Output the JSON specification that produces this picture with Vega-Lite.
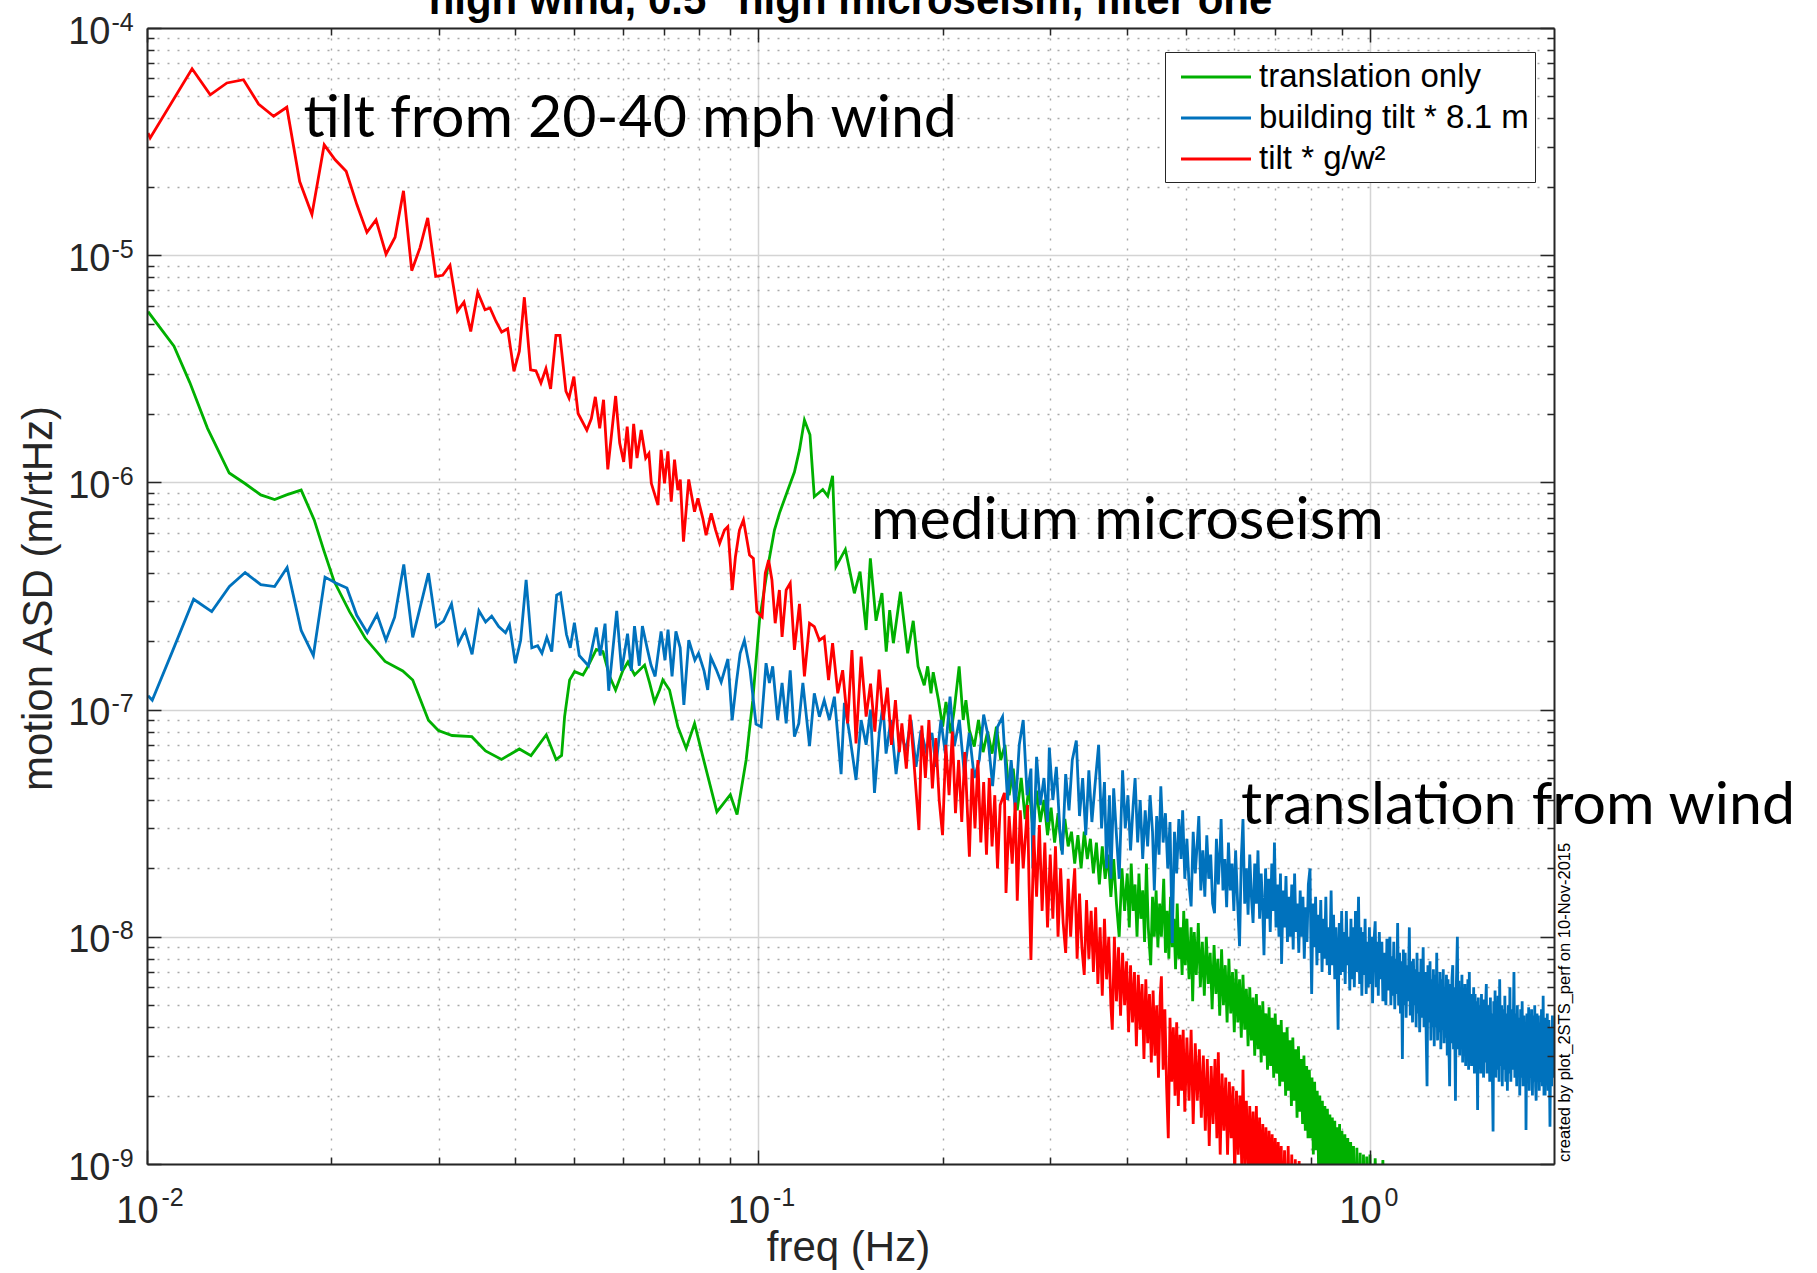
{
  "$schema": "https://vega.github.io/schema/vega-lite/v6.json",
  "width": 1407,
  "height": 1136,
  "padding": {"left": 147, "top": 28, "right": 263, "bottom": 109},
  "autosize": {"type": "none"},
  "background": "white",
  "config": {"view": {"stroke": null}, "font": "Liberation Sans"},
  "datasets": {
    "green": [
      {"freq":0.01004,"asd":5.64e-6},{"freq":0.01107,"asd":3.98e-6},{"freq":0.01175,"asd":2.75e-6},{"freq":0.01256,"asd":1.73e-6},{"freq":0.01363,"asd":1.10e-6},{"freq":0.01446,"asd":9.89e-7},{"freq":0.01535,"asd":8.81e-7},{"freq":0.01617,"asd":8.40e-7},{"freq":0.01691,"asd":8.81e-7},{"freq":0.01787,"asd":9.25e-7},{"freq":0.01877,"asd":6.84e-7},{"freq":0.01946,"asd":5.02e-7},{"freq":0.02022,"asd":3.68e-7},{"freq":0.02144,"asd":2.70e-7},{"freq":0.02275,"asd":2.06e-7},{"freq":0.02451,"asd":1.63e-7},{"freq":0.02620,"asd":1.48e-7},{"freq":0.02720,"asd":1.35e-7},{"freq":0.02886,"asd":8.97e-8},{"freq":0.02996,"asd":8.09e-8},{"freq":0.03155,"asd":7.69e-8},{"freq":0.03398,"asd":7.60e-8},{"freq":0.03578,"asd":6.58e-8},{"freq":0.03800,"asd":6.03e-8},{"freq":0.04064,"asd":6.71e-8},{"freq":0.04246,"asd":6.27e-8},{"freq":0.04498,"asd":7.75e-8},{"freq":0.04667,"asd":6.03e-8},{"freq":0.04765,"asd":6.28e-8},{"freq":0.04819,"asd":9.31e-8},{"freq":0.04911,"asd":1.35e-7},{"freq":0.05004,"asd":1.47e-7},{"freq":0.05164,"asd":1.42e-7},{"freq":0.05262,"asd":1.55e-7},{"freq":0.05430,"asd":1.84e-7},{"freq":0.05568,"asd":1.80e-7},{"freq":0.05709,"asd":1.40e-7},{"freq":0.05839,"asd":1.22e-7},{"freq":0.06003,"asd":1.49e-7},{"freq":0.06117,"asd":1.62e-7},{"freq":0.06272,"asd":1.42e-7},{"freq":0.06513,"asd":1.57e-7},{"freq":0.06637,"asd":1.31e-7},{"freq":0.06761,"asd":1.08e-7},{"freq":0.06890,"asd":1.22e-7},{"freq":0.06976,"asd":1.35e-7},{"freq":0.07154,"asd":1.22e-7},{"freq":0.07382,"asd":8.41e-8},{"freq":0.07617,"asd":6.75e-8},{"freq":0.07861,"asd":8.69e-8},{"freq":0.08110,"asd":6.21e-8},{"freq":0.08551,"asd":3.55e-8},{"freq":0.08995,"asd":4.22e-8},{"freq":0.09226,"asd":3.45e-8},{"freq":0.09546,"asd":6.00e-8},{"freq":0.09788,"asd":1.10e-7},{"freq":0.1004,"asd":2.48e-7},{"freq":0.1036,"asd":4.25e-7},{"freq":0.1062,"asd":6.17e-7},{"freq":0.1082,"asd":7.31e-7},{"freq":0.1117,"asd":9.26e-7},{"freq":0.1145,"asd":1.11e-6},{"freq":0.1167,"asd":1.39e-6},{"freq":0.1189,"asd":1.88e-6},{"freq":0.1214,"asd":1.62e-6},{"freq":0.1234,"asd":8.65e-7},{"freq":0.1274,"asd":9.31e-7},{"freq":0.1298,"asd":8.71e-7},{"freq":0.1322,"asd":1.07e-6},{"freq":0.1339,"asd":4.26e-7},{"freq":0.1387,"asd":5.07e-7},{"freq":0.1435,"asd":3.25e-7},{"freq":0.1466,"asd":4.05e-7},{"freq":0.1500,"asd":2.24e-7},{"freq":0.1524,"asd":4.63e-7},{"freq":0.1557,"asd":2.46e-7},{"freq":0.1592,"asd":3.26e-7},{"freq":0.1618,"asd":1.80e-7},{"freq":0.1639,"asd":2.74e-7},{"freq":0.1662,"asd":1.96e-7},{"freq":0.1707,"asd":3.30e-7},{"freq":0.1754,"asd":1.77e-7},{"freq":0.1791,"asd":2.46e-7},{"freq":0.1824,"asd":1.55e-7},{"freq":0.1867,"asd":1.28e-7},{"freq":0.1891,"asd":1.55e-7},{"freq":0.1915,"asd":1.18e-7},{"freq":0.1931,"asd":1.46e-7},{"freq":0.1970,"asd":1.10e-7},{"freq":0.2001,"asd":8.41e-8},{"freq":0.2026,"asd":1.08e-7},{"freq":0.2064,"asd":7.87e-8},{"freq":0.2090,"asd":9.96e-8},{"freq":0.2129,"asd":1.55e-7},{"freq":0.2162,"asd":9.00e-8},{"freq":0.2184,"asd":1.10e-7},{"freq":0.2212,"asd":8.13e-8},{"freq":0.2254,"asd":6.87e-8},
      {"freq":0.229,"asd":9.0e-8},{"freq":0.233,"asd":6.5e-8},{"freq":0.237,"asd":8.0e-8},{"freq":0.241,"asd":6.4e-8},{"freq":0.245,"asd":8.4e-8},{"freq":0.249,"asd":6.0e-8},{"freq":0.253,"asd":7.0e-8},{"freq":0.257,"asd":4.2e-8},{"freq":0.261,"asd":5.5e-8},{"freq":0.265,"asd":3.6e-8},{"freq":0.269,"asd":5.0e-8},{"freq":0.273,"asd":3.3e-8},{"freq":0.277,"asd":4.6e-8},{"freq":0.281,"asd":3.0e-8},{"freq":0.285,"asd":4.4e-8},{"freq":0.289,"asd":3.2e-8},{"freq":0.293,"asd":4.0e-8},{"freq":0.297,"asd":2.8e-8},{"freq":0.301,"asd":3.7e-8},{"freq":0.305,"asd":2.6e-8},{"freq":0.309,"asd":3.5e-8},{"freq":0.313,"asd":2.4e-8},{"freq":0.317,"asd":3.3e-8},{"freq":0.321,"asd":2.5e-8},{"freq":0.325,"asd":2.9e-8},{"freq":0.329,"asd":2.1e-8},{"freq":0.333,"asd":2.8e-8},{"freq":0.337,"asd":2.0e-8},{"freq":0.341,"asd":2.9e-8},{"freq":0.345,"asd":2.2e-8},{"freq":0.349,"asd":2.7e-8},{"freq":0.353,"asd":1.9e-8},{"freq":0.357,"asd":2.6e-8},{"freq":0.361,"asd":1.7e-8},{"freq":0.365,"asd":2.5e-8},{"freq":0.369,"asd":1.8e-8},{"freq":0.373,"asd":2.3e-8},{"freq":0.377,"asd":1.5e-8},{"freq":0.381,"asd":2.2e-8},{"freq":0.385,"asd":1.4e-8},{"freq":0.389,"asd":1.0e-8},{"freq":0.393,"asd":2.0e-8},{"freq":0.397,"asd":1.3e-8},
      {"freq":0.401,"asd":1.9e-8},{"freq":0.404,"asd":1.1e-8},{"freq":0.407,"asd":2.1e-8},{"freq":0.410,"asd":1.3e-8},{"freq":0.413,"asd":1.7e-8},{"freq":0.416,"asd":1.0e-8},{"freq":0.419,"asd":1.9e-8},{"freq":0.422,"asd":1.2e-8},{"freq":0.425,"asd":1.6e-8},{"freq":0.428,"asd":9.5e-9},{"freq":0.431,"asd":2.1e-8},{"freq":0.434,"asd":1.1e-8},{"freq":0.438,"asd":7.5e-9},{"freq":0.441,"asd":1.5e-8},{"freq":0.444,"asd":1.0e-8},{"freq":0.447,"asd":1.6e-8},{"freq":0.450,"asd":9.0e-9},{"freq":0.453,"asd":1.4e-8},{"freq":0.456,"asd":1.0e-8},{"freq":0.460,"asd":1.8e-8},{"freq":0.463,"asd":8.5e-9},{"freq":0.466,"asd":1.3e-8},{"freq":0.469,"asd":8.0e-9},{"freq":0.472,"asd":1.5e-8},{"freq":0.475,"asd":9.0e-9},{"freq":0.478,"asd":1.2e-8},{"freq":0.481,"asd":7.2e-9},{"freq":0.484,"asd":1.4e-8},{"freq":0.487,"asd":8.0e-9},{"freq":0.490,"asd":1.1e-8},{"freq":0.493,"asd":6.8e-9},{"freq":0.496,"asd":1.3e-8},{"freq":0.499,"asd":7.5e-9},{"freq":0.502,"asd":1.2e-8},{"freq":0.506,"asd":6.5e-9},{"freq":0.510,"asd":1.1e-8},{"freq":0.513,"asd":5.2e-9},{"freq":0.516,"asd":1.05e-8},{"freq":0.520,"asd":6.8e-9},{"freq":0.524,"asd":1.15e-8},{"freq":0.528,"asd":6.0e-9},{"freq":0.532,"asd":9.5e-9},{"freq":0.536,"asd":5.5e-9},{"freq":0.540,"asd":1.0e-8},{"freq":0.544,"asd":6.2e-9},{"freq":0.548,"asd":8.5e-9},{"freq":0.552,"asd":4.8e-9},{"freq":0.556,"asd":9.2e-9},{"freq":0.560,"asd":5.6e-9},{"freq":0.564,"asd":8.0e-9},{"freq":0.568,"asd":4.5e-9},{"freq":0.572,"asd":8.8e-9},{"freq":0.576,"asd":5.0e-9},{"freq":0.580,"asd":7.5e-9},{"freq":0.584,"asd":4.2e-9},{"freq":0.588,"asd":8.0e-9},{"freq":0.592,"asd":4.6e-9},{"freq":0.596,"asd":7.0e-9},{"freq":0.600,"asd":3.8e-9},{"freq":0.604,"asd":7.2e-9},{"freq":0.608,"asd":4.2e-9},{"freq":0.612,"asd":6.5e-9},{"freq":0.616,"asd":3.6e-9},{"freq":0.620,"asd":6.8e-9},{"freq":0.624,"asd":3.9e-9},{"freq":0.628,"asd":5.9e-9},{"freq":0.632,"asd":3.3e-9},{"freq":0.636,"asd":6.0e-9},{"freq":0.640,"asd":3.5e-9},{"freq":0.644,"asd":5.4e-9},{"freq":0.648,"asd":3.0e-9},{"freq":0.652,"asd":5.6e-9},{"freq":0.656,"asd":3.2e-9},{"freq":0.660,"asd":5.0e-9},{"freq":0.664,"asd":2.8e-9},{"freq":0.668,"asd":5.2e-9},{"freq":0.672,"asd":3.0e-9},{"freq":0.676,"asd":4.6e-9},{"freq":0.680,"asd":2.6e-9},{"freq":0.684,"asd":4.9e-9},{"freq":0.688,"asd":2.7e-9},{"freq":0.692,"asd":4.4e-9},{"freq":0.696,"asd":2.4e-9},{"freq":0.700,"asd":4.6e-9},{"freq":0.704,"asd":2.5e-9},{"freq":0.708,"asd":4.1e-9},{"freq":0.712,"asd":2.2e-9},{"freq":0.716,"asd":4.3e-9},{"freq":0.720,"asd":2.3e-9},{"freq":0.724,"asd":3.8e-9},{"freq":0.728,"asd":2.0e-9},{"freq":0.732,"asd":4.0e-9},{"freq":0.736,"asd":2.1e-9},{"freq":0.740,"asd":3.5e-9},{"freq":0.744,"asd":1.8e-9},{"freq":0.748,"asd":3.6e-9},{"freq":0.752,"asd":1.9e-9},{"freq":0.756,"asd":3.2e-9},{"freq":0.760,"asd":1.6e-9},{"freq":0.764,"asd":3.3e-9},{"freq":0.768,"asd":1.7e-9},{"freq":0.772,"asd":2.9e-9},{"freq":0.776,"asd":1.5e-9},{"freq":0.780,"asd":3.0e-9},{"freq":0.784,"asd":1.4e-9},{"freq":0.788,"asd":2.7e-9},{"freq":0.792,"asd":1.3e-9},{"freq":0.796,"asd":2.6e-9},{"freq":0.800,"asd":1.3e-9},{"freq":0.804,"asd":2.4e-9},{"freq":0.808,"asd":1.1e-9},{"freq":0.812,"asd":2.3e-9},{"freq":0.816,"asd":1.15e-9},{"freq":0.820,"asd":2.1e-9},{"freq":0.824,"asd":1.0e-9},{"freq":0.828,"asd":2.0e-9},{"freq":0.832,"asd":9.5e-10},{"freq":0.836,"asd":1.9e-9},{"freq":0.840,"asd":9.0e-10},{"freq":0.844,"asd":1.8e-9},{"freq":0.848,"asd":8.5e-10},{"freq":0.852,"asd":1.75e-9},{"freq":0.856,"asd":8.0e-10},{"freq":0.860,"asd":1.65e-9},{"freq":0.864,"asd":7.5e-10},{"freq":0.868,"asd":1.6e-9},{"freq":0.872,"asd":7.0e-10},{"freq":0.876,"asd":1.55e-9},{"freq":0.880,"asd":7.0e-10},{"freq":0.884,"asd":1.45e-9},{"freq":0.888,"asd":6.5e-10},{"freq":0.892,"asd":1.5e-9},{"freq":0.896,"asd":6.0e-10},{"freq":0.900,"asd":1.4e-9},{"freq":0.905,"asd":6.0e-10},{"freq":0.910,"asd":1.35e-9},{"freq":0.915,"asd":5.5e-10},{"freq":0.920,"asd":1.3e-9},{"freq":0.925,"asd":5.0e-10},{"freq":0.930,"asd":1.25e-9},{"freq":0.935,"asd":5.0e-10},{"freq":0.940,"asd":1.2e-9},{"freq":0.946,"asd":4.5e-10},{"freq":0.952,"asd":1.18e-9},{"freq":0.958,"asd":4.5e-10},{"freq":0.964,"asd":1.12e-9},{"freq":0.970,"asd":4.0e-10},{"freq":0.976,"asd":1.1e-9},{"freq":0.982,"asd":4.0e-10},{"freq":0.988,"asd":1.08e-9},{"freq":0.994,"asd":3.5e-10},{"freq":1.000,"asd":1.1e-9},{"freq":1.010,"asd":3.5e-10},{"freq":1.020,"asd":1.06e-9},{"freq":1.035,"asd":3.0e-10},{"freq":1.050,"asd":1.04e-9},{"freq":1.065,"asd":2.0e-10}
    ],
    "blue": [
      {"freq":0.01004,"asd":1.15e-7},{"freq":0.01020,"asd":1.10e-7},{"freq":0.01100,"asd":1.80e-7},{"freq":0.01192,"asd":3.06e-7},{"freq":0.01276,"asd":2.70e-7},{"freq":0.01364,"asd":3.48e-7},{"freq":0.01447,"asd":4.01e-7},{"freq":0.01535,"asd":3.55e-7},{"freq":0.01617,"asd":3.48e-7},{"freq":0.01695,"asd":4.22e-7},{"freq":0.01787,"asd":2.23e-7},{"freq":0.01871,"asd":1.73e-7},{"freq":0.01955,"asd":3.83e-7},{"freq":0.02036,"asd":3.61e-7},{"freq":0.02123,"asd":3.43e-7},{"freq":0.02203,"asd":2.60e-7},{"freq":0.02292,"asd":2.18e-7},{"freq":0.02378,"asd":2.62e-7},{"freq":0.02459,"asd":2.02e-7},{"freq":0.02541,"asd":2.55e-7},{"freq":0.02630,"asd":4.35e-7},{"freq":0.02720,"asd":2.08e-7},{"freq":0.02801,"asd":2.86e-7},{"freq":0.02886,"asd":3.98e-7},{"freq":0.02971,"asd":2.32e-7},{"freq":0.03055,"asd":2.45e-7},{"freq":0.03148,"asd":2.92e-7},{"freq":0.03229,"asd":1.95e-7},{"freq":0.03312,"asd":2.23e-7},{"freq":0.03401,"asd":1.75e-7},{"freq":0.03490,"asd":2.72e-7},{"freq":0.03579,"asd":2.43e-7},{"freq":0.03662,"asd":2.58e-7},{"freq":0.03760,"asd":2.32e-7},{"freq":0.03858,"asd":2.18e-7},{"freq":0.03916,"asd":2.36e-7},{"freq":0.04003,"asd":1.60e-7},{"freq":0.04084,"asd":2.02e-7},{"freq":0.04169,"asd":3.72e-7},{"freq":0.04259,"asd":1.87e-7},{"freq":0.04354,"asd":1.91e-7},{"freq":0.04425,"asd":1.77e-7},{"freq":0.04507,"asd":2.08e-7},{"freq":0.04591,"asd":1.80e-7},{"freq":0.04677,"asd":3.19e-7},{"freq":0.04746,"asd":3.26e-7},{"freq":0.04853,"asd":2.14e-7},{"freq":0.04923,"asd":1.87e-7},{"freq":0.05000,"asd":2.41e-7},{"freq":0.05092,"asd":1.73e-7},{"freq":0.05271,"asd":1.56e-7},{"freq":0.05430,"asd":2.30e-7},{"freq":0.05510,"asd":1.73e-7},{"freq":0.05612,"asd":2.39e-7},{"freq":0.05690,"asd":1.21e-7},{"freq":0.05864,"asd":2.72e-7},{"freq":0.05973,"asd":1.48e-7},{"freq":0.06108,"asd":2.16e-7},{"freq":0.06195,"asd":1.48e-7},{"freq":0.06270,"asd":2.33e-7},{"freq":0.06384,"asd":1.56e-7},{"freq":0.06459,"asd":2.33e-7},{"freq":0.06580,"asd":1.85e-7},{"freq":0.06672,"asd":1.57e-7},{"freq":0.06776,"asd":1.40e-7},{"freq":0.06930,"asd":2.21e-7},{"freq":0.07033,"asd":1.65e-7},{"freq":0.07114,"asd":2.25e-7},{"freq":0.07222,"asd":1.40e-7},{"freq":0.07328,"asd":2.21e-7},{"freq":0.07447,"asd":1.87e-7},{"freq":0.07551,"asd":1.05e-7},{"freq":0.07692,"asd":2.02e-7},{"freq":0.07870,"asd":1.65e-7},{"freq":0.07980,"asd":1.77e-7},{"freq":0.08147,"asd":1.48e-7},{"freq":0.08260,"asd":1.22e-7},{"freq":0.08356,"asd":1.70e-7},{"freq":0.08531,"asd":1.50e-7},{"freq":0.08690,"asd":1.32e-7},{"freq":0.08913,"asd":1.67e-7},{"freq":0.09057,"asd":8.97e-8},{"freq":0.09204,"asd":1.32e-7},{"freq":0.09333,"asd":1.77e-7},{"freq":0.09484,"asd":2.02e-7},{"freq":0.09683,"asd":1.51e-7},{"freq":0.09908,"asd":8.63e-8},
      {"freq":0.1010,"asd":8.4e-8},{"freq":0.1029,"asd":1.60e-7},{"freq":0.1042,"asd":1.31e-7},{"freq":0.1055,"asd":1.55e-7},{"freq":0.1075,"asd":9.0e-8},{"freq":0.1093,"asd":1.31e-7},{"freq":0.1110,"asd":8.7e-8},{"freq":0.1127,"asd":1.49e-7},{"freq":0.1145,"asd":7.6e-8},{"freq":0.1164,"asd":8.7e-8},{"freq":0.1182,"asd":1.31e-7},{"freq":0.1212,"asd":6.9e-8},{"freq":0.1234,"asd":1.18e-7},{"freq":0.1258,"asd":9.3e-8},{"freq":0.1281,"asd":1.10e-7},{"freq":0.1306,"asd":9.0e-8},{"freq":0.1331,"asd":1.14e-7},{"freq":0.1365,"asd":5.2e-8},{"freq":0.1382,"asd":1.07e-7},{"freq":0.1408,"asd":7.9e-8},{"freq":0.1444,"asd":4.9e-8},{"freq":0.1472,"asd":9.0e-8},{"freq":0.1500,"asd":7.0e-8},{"freq":0.1525,"asd":1.0e-7},{"freq":0.1548,"asd":4.3e-8},{"freq":0.1576,"asd":7.9e-8},{"freq":0.1598,"asd":1.05e-7},{"freq":0.1617,"asd":6.4e-8},{"freq":0.1647,"asd":9.0e-8},{"freq":0.1679,"asd":5.2e-8},{"freq":0.1710,"asd":7.9e-8},{"freq":0.1743,"asd":6.6e-8},{"freq":0.1776,"asd":9.0e-8},{"freq":0.1810,"asd":5.6e-8},{"freq":0.1844,"asd":8.1e-8},{"freq":0.1879,"asd":6.6e-8},{"freq":0.1922,"asd":7.9e-8},{"freq":0.1951,"asd":5.6e-8},{"freq":0.1988,"asd":9.0e-8},{"freq":0.2021,"asd":6.4e-8},{"freq":0.2057,"asd":1.14e-7},{"freq":0.2091,"asd":6.9e-8},{"freq":0.2131,"asd":9.0e-8},{"freq":0.2171,"asd":5.2e-8},{"freq":0.2212,"asd":7.9e-8},{"freq":0.2254,"asd":5.0e-8},{"freq":0.2297,"asd":6.0e-8},{"freq":0.2335,"asd":9.5e-8},{"freq":0.2369,"asd":7.9e-8},{"freq":0.2415,"asd":4.6e-8},{"freq":0.2460,"asd":8.4e-8},{"freq":0.2507,"asd":9.3e-8},{"freq":0.2555,"asd":4.0e-8},
      {"freq":0.259,"asd":6.0e-8},{"freq":0.263,"asd":3.6e-8},{"freq":0.267,"asd":7.0e-8},{"freq":0.271,"asd":9.0e-8},{"freq":0.275,"asd":4.2e-8},{"freq":0.279,"asd":5.5e-8},{"freq":0.281,"asd":2.0e-8},{"freq":0.285,"asd":6.2e-8},{"freq":0.289,"asd":3.8e-8},{"freq":0.293,"asd":5.0e-8},{"freq":0.297,"asd":3.2e-8},{"freq":0.299,"asd":6.8e-8},{"freq":0.303,"asd":4.0e-8},{"freq":0.307,"asd":5.6e-8},{"freq":0.311,"asd":3.0e-8},{"freq":0.314,"asd":2.3e-8},{"freq":0.318,"asd":5.2e-8},{"freq":0.322,"asd":3.6e-8},{"freq":0.326,"asd":6.0e-8},{"freq":0.331,"asd":7.3e-8},{"freq":0.335,"asd":3.4e-8},{"freq":0.339,"asd":5.0e-8},{"freq":0.343,"asd":2.8e-8},{"freq":0.347,"asd":5.4e-8},{"freq":0.351,"asd":3.2e-8},{"freq":0.355,"asd":4.6e-8},{"freq":0.360,"asd":7.0e-8},{"freq":0.364,"asd":3.0e-8},{"freq":0.368,"asd":4.8e-8},{"freq":0.371,"asd":2.0e-8},{"freq":0.375,"asd":4.2e-8},{"freq":0.377,"asd":1.8e-8},{"freq":0.381,"asd":4.5e-8},{"freq":0.385,"asd":2.8e-8},{"freq":0.389,"asd":1.8e-8},{"freq":0.394,"asd":5.4e-8},{"freq":0.398,"asd":3.0e-8},{"freq":0.402,"asd":4.2e-8},{"freq":0.406,"asd":2.4e-8},{"freq":0.410,"asd":3.8e-8},{"freq":0.413,"asd":5.0e-8},{"freq":0.417,"asd":2.6e-8},{"freq":0.421,"asd":4.0e-8},{"freq":0.425,"asd":2.2e-8},{"freq":0.429,"asd":3.6e-8},{"freq":0.433,"asd":2.5e-8},{"freq":0.437,"asd":4.2e-8},{"freq":0.441,"asd":2.9e-8},{"freq":0.444,"asd":1.6e-8},{"freq":0.448,"asd":3.4e-8},{"freq":0.452,"asd":2.3e-8},{"freq":0.455,"asd":4.6e-8},{"freq":0.459,"asd":2.6e-8},{"freq":0.463,"asd":3.5e-8},{"freq":0.467,"asd":2.0e-8},{"freq":0.471,"asd":3.2e-8},{"freq":0.475,"asd":9.4e-9},{"freq":0.479,"asd":2.9e-8},{"freq":0.483,"asd":1.9e-8},{"freq":0.487,"asd":3.3e-8},{"freq":0.491,"asd":2.2e-8},{"freq":0.494,"asd":3.6e-8},{"freq":0.498,"asd":1.8e-8},
      {"freq":0.502,"asd":2.7e-8},{"freq":0.506,"asd":1.7e-8},{"freq":0.510,"asd":1.36e-8},{"freq":0.514,"asd":2.9e-8},{"freq":0.518,"asd":1.9e-8},{"freq":0.522,"asd":2.6e-8},{"freq":0.525,"asd":3.4e-8},{"freq":0.529,"asd":1.6e-8},{"freq":0.533,"asd":2.4e-8},{"freq":0.537,"asd":1.5e-8},{"freq":0.541,"asd":2.8e-8},{"freq":0.545,"asd":1.8e-8},{"freq":0.549,"asd":2.3e-8},{"freq":0.553,"asd":1.4e-8},{"freq":0.557,"asd":1.27e-8},{"freq":0.561,"asd":2.7e-8},{"freq":0.565,"asd":1.7e-8},{"freq":0.569,"asd":2.5e-8},{"freq":0.571,"asd":3.3e-8},{"freq":0.575,"asd":1.6e-8},{"freq":0.579,"asd":2.2e-8},{"freq":0.583,"asd":1.35e-8},{"freq":0.587,"asd":2.6e-8},{"freq":0.591,"asd":1.6e-8},{"freq":0.595,"asd":2.1e-8},{"freq":0.599,"asd":1.3e-8},{"freq":0.603,"asd":2.4e-8},{"freq":0.607,"asd":1.5e-8},{"freq":0.612,"asd":9.1e-9},{"freq":0.616,"asd":2.2e-8},{"freq":0.620,"asd":3.3e-8},{"freq":0.624,"asd":1.4e-8},{"freq":0.628,"asd":2.0e-8},{"freq":0.632,"asd":1.25e-8},{"freq":0.636,"asd":2.3e-8},{"freq":0.640,"asd":1.5e-8},{"freq":0.644,"asd":1.15e-8},{"freq":0.648,"asd":2.1e-8},{"freq":0.652,"asd":1.4e-8},{"freq":0.656,"asd":2.4e-8},{"freq":0.660,"asd":1.2e-8},{"freq":0.664,"asd":1.9e-8},{"freq":0.668,"asd":1.3e-8},{"freq":0.671,"asd":8.3e-9},{"freq":0.675,"asd":2.0e-8},{"freq":0.679,"asd":1.2e-8},{"freq":0.683,"asd":1.8e-8},{"freq":0.687,"asd":1.05e-8},{"freq":0.691,"asd":2.1e-8},{"freq":0.695,"asd":1.3e-8},{"freq":0.698,"asd":2.6e-8},{"freq":0.702,"asd":1.1e-8},{"freq":0.706,"asd":1.7e-8},{"freq":0.710,"asd":1.0e-8},{"freq":0.714,"asd":1.9e-8},{"freq":0.717,"asd":7.6e-9},{"freq":0.721,"asd":1.6e-8},{"freq":0.725,"asd":1.1e-8},{"freq":0.729,"asd":1.85e-8},{"freq":0.733,"asd":9.5e-9},{"freq":0.737,"asd":1.5e-8},{"freq":0.741,"asd":1.0e-8},{"freq":0.745,"asd":1.7e-8},{"freq":0.749,"asd":8.8e-9},{"freq":0.753,"asd":1.9e-8},{"freq":0.757,"asd":1.05e-8},{"freq":0.761,"asd":1.4e-8},{"freq":0.765,"asd":8.5e-9},{"freq":0.769,"asd":1.6e-8},{"freq":0.773,"asd":1.0e-8},{"freq":0.777,"asd":1.5e-8},{"freq":0.781,"asd":8.0e-9},{"freq":0.785,"asd":1.35e-8},{"freq":0.789,"asd":9.5e-9},{"freq":0.793,"asd":1.7e-8},{"freq":0.798,"asd":2.0e-8},{"freq":0.801,"asd":8.5e-9},{"freq":0.803,"asd":5.6e-9},{"freq":0.807,"asd":1.4e-8},{"freq":0.811,"asd":9.0e-9},{"freq":0.815,"asd":1.5e-8},{"freq":0.819,"asd":7.5e-9},{"freq":0.823,"asd":1.25e-8},{"freq":0.827,"asd":8.5e-9},{"freq":0.831,"asd":1.45e-8},{"freq":0.835,"asd":7.0e-9},{"freq":0.839,"asd":1.2e-8},{"freq":0.843,"asd":8.0e-9},{"freq":0.847,"asd":1.5e-8},{"freq":0.851,"asd":7.5e-9},{"freq":0.855,"asd":1.1e-8},{"freq":0.859,"asd":6.8e-9},{"freq":0.864,"asd":1.6e-8},{"freq":0.868,"asd":7.5e-9},{"freq":0.872,"asd":1.25e-8},{"freq":0.876,"asd":6.5e-9},{"freq":0.880,"asd":1.1e-8},{"freq":0.884,"asd":7.2e-9},{"freq":0.887,"asd":3.9e-9},{"freq":0.891,"asd":1.15e-8},{"freq":0.895,"asd":6.8e-9},{"freq":0.899,"asd":1.3e-8},{"freq":0.903,"asd":7.0e-9},{"freq":0.907,"asd":1.05e-8},{"freq":0.911,"asd":6.2e-9},{"freq":0.915,"asd":1.3e-8},{"freq":0.919,"asd":7.5e-9},{"freq":0.923,"asd":1.0e-8},{"freq":0.927,"asd":5.8e-9},{"freq":0.931,"asd":1.2e-8},{"freq":0.935,"asd":6.5e-9},{"freq":0.939,"asd":1.1e-8},{"freq":0.943,"asd":6.0e-9},{"freq":0.947,"asd":1.3e-8},{"freq":0.951,"asd":7.0e-9},{"freq":0.955,"asd":1.0e-8},{"freq":0.958,"asd":1.5e-8},{"freq":0.962,"asd":6.2e-9},{"freq":0.966,"asd":1.1e-8},{"freq":0.970,"asd":5.5e-9},{"freq":0.974,"asd":1.05e-8},{"freq":0.978,"asd":6.8e-9},{"freq":0.982,"asd":1.2e-8},{"freq":0.986,"asd":5.6e-9},{"freq":0.990,"asd":9.5e-9},{"freq":0.994,"asd":6.0e-9},{"freq":0.998,"asd":1.1e-8},
      {"freq":1.002,"asd":6.2e-9},{"freq":1.006,"asd":1.0e-8},{"freq":1.010,"asd":5.1e-9},{"freq":1.014,"asd":9.0e-9},{"freq":1.020,"asd":1.17e-8},{"freq":1.024,"asd":6.0e-9},{"freq":1.028,"asd":9.5e-9},{"freq":1.032,"asd":5.5e-9},{"freq":1.036,"asd":1.05e-8},{"freq":1.040,"asd":6.5e-9},{"freq":1.046,"asd":9.5e-9},{"freq":1.050,"asd":5.2e-9},{"freq":1.054,"asd":8.5e-9},{"freq":1.058,"asd":6.0e-9},{"freq":1.062,"asd":5.0e-9},{"freq":1.066,"asd":9.8e-9},{"freq":1.070,"asd":5.8e-9},{"freq":1.074,"asd":8.8e-9},{"freq":1.078,"asd":1.0e-8},{"freq":1.082,"asd":5.0e-9},{"freq":1.086,"asd":8.2e-9},{"freq":1.090,"asd":5.5e-9},{"freq":1.094,"asd":9.5e-9},{"freq":1.098,"asd":4.8e-9},{"freq":1.102,"asd":8.0e-9},{"freq":1.106,"asd":5.6e-9},{"freq":1.110,"asd":1.15e-8},{"freq":1.114,"asd":5.0e-9},{"freq":1.118,"asd":8.5e-9},{"freq":1.122,"asd":4.6e-9},{"freq":1.126,"asd":7.8e-9},{"freq":1.130,"asd":2.9e-9},{"freq":1.134,"asd":8.8e-9},{"freq":1.138,"asd":5.0e-9},{"freq":1.142,"asd":8.5e-9},{"freq":1.146,"asd":4.4e-9},{"freq":1.150,"asd":7.5e-9},{"freq":1.155,"asd":5.2e-9},{"freq":1.160,"asd":1.1e-8},{"freq":1.164,"asd":4.5e-9},{"freq":1.168,"asd":7.8e-9},{"freq":1.174,"asd":4.2e-9},{"freq":1.178,"asd":8.0e-9},{"freq":1.182,"asd":5.0e-9},{"freq":1.186,"asd":7.2e-9},{"freq":1.190,"asd":4.0e-9},{"freq":1.194,"asd":8.5e-9},{"freq":1.198,"asd":4.6e-9},{"freq":1.202,"asd":7.0e-9},{"freq":1.206,"asd":3.8e-9},{"freq":1.212,"asd":8.0e-9},{"freq":1.216,"asd":4.4e-9},{"freq":1.222,"asd":9.0e-9},{"freq":1.226,"asd":4.0e-9},{"freq":1.232,"asd":7.0e-9},{"freq":1.236,"asd":3.6e-9},{"freq":1.240,"asd":2.2e-9},{"freq":1.244,"asd":7.5e-9},{"freq":1.248,"asd":4.2e-9},{"freq":1.254,"asd":7.8e-9},{"freq":1.258,"asd":3.5e-9},{"freq":1.262,"asd":6.5e-9},{"freq":1.266,"asd":4.0e-9},{"freq":1.270,"asd":7.2e-9},{"freq":1.274,"asd":3.3e-9},{"freq":1.278,"asd":6.8e-9},{"freq":1.282,"asd":4.0e-9},{"freq":1.286,"asd":8.5e-9},{"freq":1.290,"asd":3.5e-9},{"freq":1.294,"asd":6.2e-9},{"freq":1.298,"asd":3.8e-9},{"freq":1.302,"asd":7.0e-9},{"freq":1.306,"asd":3.2e-9},{"freq":1.310,"asd":6.5e-9},{"freq":1.314,"asd":3.9e-9},{"freq":1.318,"asd":7.2e-9},{"freq":1.322,"asd":3.4e-9},{"freq":1.326,"asd":6.0e-9},{"freq":1.330,"asd":3.6e-9},{"freq":1.334,"asd":6.8e-9},{"freq":1.338,"asd":3.0e-9},{"freq":1.342,"asd":6.5e-9},{"freq":1.346,"asd":3.5e-9},{"freq":1.350,"asd":2.2e-9},{"freq":1.354,"asd":6.2e-9},{"freq":1.358,"asd":3.4e-9},{"freq":1.362,"asd":6.6e-9},{"freq":1.366,"asd":7.5e-9},{"freq":1.370,"asd":3.2e-9},{"freq":1.374,"asd":6.0e-9},{"freq":1.380,"asd":1.9e-9},{"freq":1.384,"asd":5.8e-9},{"freq":1.390,"asd":1.0e-8},{"freq":1.394,"asd":3.2e-9},{"freq":1.398,"asd":6.4e-9},{"freq":1.402,"asd":3.0e-9},{"freq":1.406,"asd":6.0e-9},{"freq":1.410,"asd":3.4e-9},{"freq":1.414,"asd":6.8e-9},{"freq":1.418,"asd":2.8e-9},{"freq":1.422,"asd":5.8e-9},{"freq":1.426,"asd":3.3e-9},{"freq":1.430,"asd":6.2e-9},{"freq":1.434,"asd":2.7e-9},{"freq":1.438,"asd":5.5e-9},{"freq":1.442,"asd":3.2e-9},{"freq":1.446,"asd":6.5e-9},{"freq":1.450,"asd":2.6e-9},{"freq":1.454,"asd":7.0e-9},{"freq":1.458,"asd":3.0e-9},{"freq":1.462,"asd":5.6e-9},{"freq":1.466,"asd":2.7e-9},{"freq":1.470,"asd":5.2e-9},{"freq":1.474,"asd":3.1e-9},{"freq":1.478,"asd":6.0e-9},{"freq":1.482,"asd":2.5e-9},{"freq":1.486,"asd":5.6e-9},{"freq":1.490,"asd":3.0e-9},{"freq":1.494,"asd":5.2e-9},{"freq":1.500,"asd":1.73e-9},{"freq":1.504,"asd":5.4e-9},{"freq":1.508,"asd":2.8e-9},{"freq":1.512,"asd":5.0e-9},{"freq":1.518,"asd":2.5e-9},{"freq":1.522,"asd":5.6e-9},{"freq":1.526,"asd":2.9e-9},{"freq":1.530,"asd":4.8e-9},{"freq":1.534,"asd":2.4e-9},{"freq":1.538,"asd":5.3e-9},{"freq":1.542,"asd":2.8e-9},{"freq":1.546,"asd":5.0e-9},{"freq":1.550,"asd":6.2e-9},{"freq":1.554,"asd":2.5e-9},{"freq":1.558,"asd":5.0e-9},{"freq":1.562,"asd":2.7e-9},{"freq":1.566,"asd":4.7e-9},{"freq":1.570,"asd":2.3e-9},{"freq":1.574,"asd":5.4e-9},{"freq":1.578,"asd":2.8e-9},{"freq":1.582,"asd":4.6e-9},{"freq":1.586,"asd":2.4e-9},{"freq":1.590,"asd":1.39e-9},{"freq":1.594,"asd":5.2e-9},{"freq":1.598,"asd":2.6e-9},{"freq":1.602,"asd":5.8e-9},{"freq":1.606,"asd":2.4e-9},{"freq":1.610,"asd":4.8e-9},{"freq":1.614,"asd":2.6e-9},{"freq":1.620,"asd":5.5e-9},{"freq":1.626,"asd":2.3e-9},{"freq":1.630,"asd":6.5e-9},{"freq":1.636,"asd":2.7e-9},{"freq":1.642,"asd":5.0e-9},{"freq":1.646,"asd":2.2e-9},{"freq":1.652,"asd":4.8e-9},{"freq":1.658,"asd":2.6e-9},{"freq":1.662,"asd":5.5e-9},{"freq":1.668,"asd":2.3e-9},{"freq":1.674,"asd":4.6e-9},{"freq":1.678,"asd":2.1e-9},{"freq":1.684,"asd":5.0e-9},{"freq":1.690,"asd":2.5e-9},{"freq":1.694,"asd":6.0e-9},{"freq":1.700,"asd":2.3e-9},{"freq":1.706,"asd":4.8e-9},{"freq":1.712,"asd":2.6e-9},{"freq":1.720,"asd":7.0e-9},{"freq":1.726,"asd":2.4e-9},{"freq":1.732,"asd":4.6e-9},{"freq":1.738,"asd":2.2e-9},{"freq":1.742,"asd":5.0e-9},{"freq":1.748,"asd":2.5e-9},{"freq":1.754,"asd":4.4e-9},{"freq":1.758,"asd":2.0e-9},{"freq":1.764,"asd":4.8e-9},{"freq":1.770,"asd":2.4e-9},{"freq":1.774,"asd":5.2e-9},{"freq":1.780,"asd":2.2e-9},{"freq":1.786,"asd":4.5e-9},{"freq":1.790,"asd":2.6e-9},{"freq":1.796,"asd":4.2e-9},{"freq":1.800,"asd":1.41e-9},{"freq":1.806,"asd":4.6e-9},{"freq":1.812,"asd":2.3e-9},{"freq":1.818,"asd":4.9e-9},{"freq":1.822,"asd":2.1e-9},{"freq":1.828,"asd":4.4e-9},{"freq":1.834,"asd":2.4e-9},{"freq":1.838,"asd":4.8e-9},{"freq":1.844,"asd":2.0e-9},{"freq":1.850,"asd":4.5e-9},{"freq":1.854,"asd":2.3e-9},{"freq":1.860,"asd":5.0e-9},{"freq":1.866,"asd":2.2e-9},{"freq":1.870,"asd":1.9e-9},{"freq":1.876,"asd":4.6e-9},{"freq":1.882,"asd":2.4e-9},{"freq":1.886,"asd":4.5e-9},{"freq":1.892,"asd":2.1e-9},{"freq":1.898,"asd":4.2e-9},{"freq":1.902,"asd":2.3e-9},{"freq":1.908,"asd":4.8e-9},{"freq":1.914,"asd":2.2e-9},{"freq":1.920,"asd":5.5e-9},{"freq":1.926,"asd":2.0e-9},{"freq":1.930,"asd":4.4e-9},{"freq":1.934,"asd":2.0e-9},{"freq":1.940,"asd":4.0e-9},{"freq":1.946,"asd":2.3e-9},{"freq":1.950,"asd":4.6e-9},{"freq":1.956,"asd":2.1e-9},{"freq":1.962,"asd":4.3e-9},{"freq":1.970,"asd":1.46e-9},{"freq":1.976,"asd":4.0e-9},{"freq":1.982,"asd":2.2e-9},{"freq":1.988,"asd":4.5e-9},{"freq":1.994,"asd":2.4e-9},{"freq":1.998,"asd":3.6e-9}
    ],
    "red": [
      {"freq":0.01004,"asd":3.45e-5},{"freq":0.01012,"asd":3.28e-5},{"freq":0.01185,"asd":6.62e-5},{"freq":0.01269,"asd":5.08e-5},{"freq":0.01351,"asd":5.73e-5},{"freq":0.01438,"asd":5.92e-5},{"freq":0.01522,"asd":4.63e-5},{"freq":0.01611,"asd":4.09e-5},{"freq":0.01693,"asd":4.48e-5},{"freq":0.01777,"asd":2.11e-5},{"freq":0.01861,"asd":1.51e-5},{"freq":0.01949,"asd":3.06e-5},{"freq":0.02031,"asd":2.63e-5},{"freq":0.02117,"asd":2.34e-5},{"freq":0.02204,"asd":1.67e-5},{"freq":0.02289,"asd":1.26e-5},{"freq":0.02369,"asd":1.43e-5},{"freq":0.02460,"asd":1.01e-5},{"freq":0.02545,"asd":1.20e-5},{"freq":0.02627,"asd":1.92e-5},{"freq":0.02710,"asd":8.55e-6},{"freq":0.02796,"asd":1.08e-5},{"freq":0.02878,"asd":1.46e-5},{"freq":0.02966,"asd":8.07e-6},{"freq":0.03045,"asd":8.16e-6},{"freq":0.03130,"asd":9.03e-6},{"freq":0.03219,"asd":5.67e-6},{"freq":0.03299,"asd":6.22e-6},{"freq":0.03384,"asd":4.62e-6},{"freq":0.03474,"asd":6.88e-6},{"freq":0.03571,"asd":5.75e-6},{"freq":0.03639,"asd":5.86e-6},{"freq":0.03721,"asd":5.12e-6},{"freq":0.03802,"asd":4.59e-6},{"freq":0.03889,"asd":4.75e-6},{"freq":0.03982,"asd":3.08e-6},{"freq":0.04064,"asd":3.78e-6},{"freq":0.04141,"asd":6.53e-6},{"freq":0.04240,"asd":3.13e-6},{"freq":0.04326,"asd":3.10e-6},{"freq":0.04408,"asd":2.74e-6},{"freq":0.04492,"asd":3.17e-6},{"freq":0.04572,"asd":2.58e-6},{"freq":0.04664,"asd":4.44e-6},{"freq":0.04735,"asd":4.44e-6},{"freq":0.04843,"asd":2.52e-6},
      {"freq":0.0490,"asd":2.35e-6},{"freq":0.0499,"asd":2.92e-6},{"freq":0.0507,"asd":2.01e-6},{"freq":0.0524,"asd":1.70e-6},{"freq":0.0533,"asd":1.91e-6},{"freq":0.0541,"asd":2.38e-6},{"freq":0.0550,"asd":1.73e-6},{"freq":0.0558,"asd":2.31e-6},{"freq":0.0567,"asd":1.14e-6},{"freq":0.0584,"asd":2.40e-6},{"freq":0.0593,"asd":1.49e-6},{"freq":0.0602,"asd":1.23e-6},{"freq":0.0610,"asd":1.76e-6},{"freq":0.0618,"asd":1.15e-6},{"freq":0.0625,"asd":1.81e-6},{"freq":0.0633,"asd":1.28e-6},{"freq":0.0643,"asd":1.70e-6},{"freq":0.0654,"asd":1.28e-6},{"freq":0.0662,"asd":1.34e-6},{"freq":0.0668,"asd":9.91e-7},{"freq":0.0685,"asd":7.95e-7},{"freq":0.0693,"asd":1.39e-6},{"freq":0.0702,"asd":9.91e-7},{"freq":0.0711,"asd":1.37e-6},{"freq":0.0720,"asd":8.22e-7},{"freq":0.0729,"asd":1.26e-6},{"freq":0.0738,"asd":9.25e-7},{"freq":0.0745,"asd":1.03e-6},{"freq":0.0754,"asd":5.48e-7},{"freq":0.0769,"asd":1.03e-6},{"freq":0.0786,"asd":7.43e-7},{"freq":0.0796,"asd":8.51e-7},{"freq":0.0811,"asd":6.95e-7},{"freq":0.0821,"asd":5.86e-7},{"freq":0.0837,"asd":7.31e-7},{"freq":0.0851,"asd":6.17e-7},{"freq":0.0864,"asd":5.39e-7},{"freq":0.0880,"asd":6.17e-7},{"freq":0.0891,"asd":6.38e-7},{"freq":0.0906,"asd":3.36e-7},{"freq":0.0917,"asd":4.71e-7},{"freq":0.0931,"asd":6.17e-7},{"freq":0.0945,"asd":6.84e-7},{"freq":0.0967,"asd":4.79e-7},{"freq":0.0981,"asd":4.63e-7},{"freq":0.0994,"asd":2.70e-7},{"freq":0.1014,"asd":2.56e-7},{"freq":0.1026,"asd":3.98e-7},{"freq":0.1039,"asd":4.55e-7},{"freq":0.1052,"asd":3.72e-7},{"freq":0.1065,"asd":2.40e-7},{"freq":0.1082,"asd":3.36e-7},{"freq":0.1093,"asd":2.09e-7},{"freq":0.1110,"asd":3.36e-7},{"freq":0.1127,"asd":3.60e-7},{"freq":0.1145,"asd":1.83e-7},{"freq":0.1167,"asd":2.92e-7},{"freq":0.1189,"asd":1.40e-7},{"freq":0.1212,"asd":2.40e-7},{"freq":0.1234,"asd":2.32e-7},{"freq":0.1258,"asd":2.02e-7},{"freq":0.1281,"asd":2.09e-7},{"freq":0.1302,"asd":1.35e-7},{"freq":0.1322,"asd":1.96e-7},{"freq":0.1348,"asd":1.18e-7},{"freq":0.1373,"asd":1.49e-7},{"freq":0.1399,"asd":8.69e-8},{"freq":0.1422,"asd":1.83e-7},{"freq":0.1444,"asd":7.10e-8},{"freq":0.1472,"asd":1.71e-7},{"freq":0.1500,"asd":9.31e-8},
      {"freq":0.1525,"asd":1.3e-7},{"freq":0.155,"asd":8.0e-8},{"freq":0.1575,"asd":1.5e-7},{"freq":0.160,"asd":9.0e-8},{"freq":0.1625,"asd":1.25e-7},{"freq":0.165,"asd":7.0e-8},{"freq":0.1675,"asd":1.1e-7},{"freq":0.170,"asd":6.5e-8},{"freq":0.1716,"asd":8.7e-8},{"freq":0.1745,"asd":5.5e-8},{"freq":0.177,"asd":9.5e-8},{"freq":0.1795,"asd":6.0e-8},{"freq":0.183,"asd":2.95e-8},{"freq":0.185,"asd":8.5e-8},{"freq":0.1875,"asd":5.0e-8},{"freq":0.190,"asd":9.0e-8},{"freq":0.1925,"asd":4.5e-8},{"freq":0.195,"asd":7.5e-8},{"freq":0.1975,"asd":4.0e-8},{"freq":0.200,"asd":2.8e-8},{"freq":0.2025,"asd":7.0e-8},{"freq":0.205,"asd":4.2e-8},{"freq":0.2075,"asd":8.0e-8},{"freq":0.210,"asd":3.5e-8},{"freq":0.2125,"asd":6.0e-8},{"freq":0.215,"asd":3.2e-8},{"freq":0.2175,"asd":6.5e-8},{"freq":0.2213,"asd":2.25e-8},{"freq":0.2235,"asd":5.5e-8},{"freq":0.226,"asd":3.0e-8},{"freq":0.2285,"asd":6.0e-8},{"freq":0.231,"asd":2.6e-8},{"freq":0.2335,"asd":4.8e-8},{"freq":0.236,"asd":2.3e-8},{"freq":0.2385,"asd":5.0e-8},{"freq":0.241,"asd":2.5e-8},{"freq":0.2435,"asd":4.2e-8},{"freq":0.246,"asd":2.0e-8},{"freq":0.2485,"asd":3.8e-8},
      {"freq":0.2525,"asd":4.3e-8},{"freq":0.254,"asd":1.56e-8},{"freq":0.257,"asd":3.4e-8},{"freq":0.260,"asd":2.1e-8},{"freq":0.263,"asd":3.9e-8},{"freq":0.265,"asd":1.44e-8},{"freq":0.268,"asd":3.6e-8},{"freq":0.271,"asd":2.0e-8},{"freq":0.2755,"asd":3.8e-8},{"freq":0.277,"asd":1.7e-8},{"freq":0.279,"asd":7.9e-9},{"freq":0.282,"asd":2.8e-8},{"freq":0.285,"asd":1.5e-8},{"freq":0.288,"asd":3.1e-8},{"freq":0.291,"asd":1.3e-8},{"freq":0.294,"asd":2.6e-8},{"freq":0.297,"asd":1.1e-8},{"freq":0.300,"asd":2.3e-8},{"freq":0.303,"asd":1.2e-8},{"freq":0.306,"asd":2.5e-8},{"freq":0.309,"asd":1.0e-8},{"freq":0.312,"asd":2.0e-8},{"freq":0.315,"asd":1.15e-8},{"freq":0.318,"asd":8.5e-9},{"freq":0.321,"asd":1.8e-8},{"freq":0.324,"asd":1.0e-8},{"freq":0.327,"asd":1.6e-8},{"freq":0.329,"asd":2.0e-8},{"freq":0.332,"asd":8.0e-9},{"freq":0.335,"asd":1.55e-8},{"freq":0.338,"asd":9.0e-9},{"freq":0.341,"asd":6.8e-9},{"freq":0.344,"asd":1.45e-8},{"freq":0.347,"asd":8.0e-9},{"freq":0.350,"asd":1.3e-8},{"freq":0.353,"asd":7.0e-9},{"freq":0.356,"asd":1.35e-8},{"freq":0.359,"asd":6.2e-9},{"freq":0.362,"asd":1.1e-8},{"freq":0.365,"asd":5.5e-9},{"freq":0.368,"asd":1.2e-8},{"freq":0.371,"asd":6.5e-9},{"freq":0.374,"asd":1.0e-8},{"freq":0.377,"asd":5.0e-9},{"freq":0.379,"asd":3.9e-9},{"freq":0.382,"asd":1.0e-8},{"freq":0.385,"asd":5.2e-9},{"freq":0.388,"asd":9.0e-9},{"freq":0.391,"asd":4.5e-9},{"freq":0.394,"asd":8.5e-9},{"freq":0.397,"asd":5.0e-9},{"freq":0.400,"asd":7.8e-9},{"freq":0.403,"asd":3.8e-9},{"freq":0.406,"asd":7.5e-9},{"freq":0.409,"asd":4.2e-9},{"freq":0.412,"asd":7.0e-9},{"freq":0.415,"asd":3.3e-9},{"freq":0.418,"asd":6.8e-9},{"freq":0.421,"asd":3.9e-9},{"freq":0.424,"asd":6.2e-9},{"freq":0.427,"asd":2.9e-9},{"freq":0.430,"asd":6.5e-9},{"freq":0.433,"asd":3.4e-9},{"freq":0.436,"asd":5.6e-9},{"freq":0.439,"asd":2.8e-9},{"freq":0.442,"asd":5.8e-9},{"freq":0.445,"asd":3.0e-9},{"freq":0.448,"asd":5.0e-9},{"freq":0.451,"asd":2.4e-9},{"freq":0.454,"asd":5.5e-9},{"freq":0.456,"asd":6.7e-9},{"freq":0.459,"asd":2.6e-9},{"freq":0.462,"asd":4.8e-9},{"freq":0.465,"asd":2.2e-9},{"freq":0.468,"asd":1.3e-9},{"freq":0.471,"asd":4.4e-9},{"freq":0.474,"asd":2.3e-9},{"freq":0.477,"asd":4.0e-9},{"freq":0.480,"asd":2.0e-9},{"freq":0.483,"asd":4.2e-9},{"freq":0.486,"asd":1.8e-9},{"freq":0.489,"asd":3.7e-9},{"freq":0.492,"asd":2.1e-9},{"freq":0.495,"asd":3.9e-9},{"freq":0.498,"asd":1.7e-9},
      {"freq":0.502,"asd":3.6e-9},{"freq":0.506,"asd":1.9e-9},{"freq":0.510,"asd":3.9e-9},{"freq":0.514,"asd":1.5e-9},{"freq":0.518,"asd":3.4e-9},{"freq":0.522,"asd":1.9e-9},{"freq":0.526,"asd":3.2e-9},{"freq":0.530,"asd":1.6e-9},{"freq":0.534,"asd":3.0e-9},{"freq":0.538,"asd":1.4e-9},{"freq":0.542,"asd":2.9e-9},{"freq":0.546,"asd":1.2e-9},{"freq":0.550,"asd":2.7e-9},{"freq":0.554,"asd":1.5e-9},{"freq":0.558,"asd":2.9e-9},{"freq":0.562,"asd":1.3e-9},{"freq":0.565,"asd":3.1e-9},{"freq":0.569,"asd":1.1e-9},{"freq":0.573,"asd":2.5e-9},{"freq":0.577,"asd":1.4e-9},{"freq":0.581,"asd":2.4e-9},{"freq":0.585,"asd":1.1e-9},{"freq":0.589,"asd":2.3e-9},{"freq":0.593,"asd":1.3e-9},{"freq":0.597,"asd":2.2e-9},{"freq":0.601,"asd":9.0e-10},{"freq":0.605,"asd":2.1e-9},{"freq":0.609,"asd":1.1e-9},{"freq":0.613,"asd":2.0e-9},{"freq":0.617,"asd":1.0e-9},{"freq":0.620,"asd":2.6e-9},{"freq":0.624,"asd":1.0e-9},{"freq":0.628,"asd":1.9e-9},{"freq":0.632,"asd":8.5e-10},{"freq":0.636,"asd":1.8e-9},{"freq":0.640,"asd":9.0e-10},{"freq":0.644,"asd":1.7e-9},{"freq":0.648,"asd":8.0e-10},{"freq":0.652,"asd":1.8e-9},{"freq":0.656,"asd":8.0e-10},{"freq":0.660,"asd":1.6e-9},{"freq":0.664,"asd":7.0e-10},{"freq":0.668,"asd":1.5e-9},{"freq":0.672,"asd":7.5e-10},{"freq":0.676,"asd":1.45e-9},{"freq":0.680,"asd":6.5e-10},{"freq":0.684,"asd":1.4e-9},{"freq":0.688,"asd":7.0e-10},{"freq":0.692,"asd":1.35e-9},{"freq":0.696,"asd":6.0e-10},{"freq":0.700,"asd":1.3e-9},{"freq":0.704,"asd":6.0e-10},{"freq":0.708,"asd":1.25e-9},{"freq":0.712,"asd":5.5e-10},{"freq":0.716,"asd":1.2e-9},{"freq":0.720,"asd":5.0e-10},{"freq":0.725,"asd":1.15e-9},{"freq":0.730,"asd":5.0e-10},{"freq":0.735,"asd":1.2e-9},{"freq":0.740,"asd":4.5e-10},{"freq":0.745,"asd":1.1e-9},{"freq":0.750,"asd":4.0e-10},{"freq":0.755,"asd":1.05e-9},{"freq":0.760,"asd":4.0e-10},{"freq":0.766,"asd":1.03e-9},{"freq":0.772,"asd":3.5e-10},{"freq":0.780,"asd":9.0e-10},{"freq":0.790,"asd":3.0e-10}
    ],
    "notes": [
      {"freq":0.01803,"asd":3.33e-5,"label":"tilt from 20-40 mph wind"},
      {"freq":0.1527,"asd":5.65e-7,"label":"medium microseism"},
      {"freq":0.6154,"asd":3.14e-8,"label":"translation from wind"}
    ],
    "credit": [
      {"freq":2,"asd":1e-9,"label":"created by plot_2STS_perf on 10-Nov-2015"}
    ],
    "heading": [
      {"freq":0.14142,"asd":1e-4,"label":"high wind, 0.5\" high microseism, filter one"}
    ]
  },
  "resolve": {"axis": {"x": "independent", "y": "independent"}},
  "layer": [
    {
      "data": {"name": "green"},
      "mark": {"type": "line", "clip": true, "strokeWidth": 2.8},
      "encoding": {
        "x": {"field": "freq", "type": "quantitative", "scale": {"type": "log", "domain": [0.01, 2], "nice": false},
          "axis": {"orient": "bottom", "values": [0.02,0.03,0.04,0.05,0.06,0.07,0.08,0.09,0.2,0.3,0.4,0.5,0.6,0.7,0.8,0.9], "grid": true, "gridDash": [2, 8], "gridColor": "#a9a9a9", "gridWidth": 1.4, "ticks": true, "tickSize": -7, "tickWidth": 1.5, "tickColor": "#262626", "labels": false, "domain": false, "title": null, "zindex": 0}},
        "y": {"field": "asd", "type": "quantitative", "scale": {"type": "log", "domain": [1e-9, 1e-4], "nice": false},
          "axis": {"orient": "left", "values": [2e-9,3e-9,4e-9,5e-9,6e-9,7e-9,8e-9,9e-9,2e-8,3e-8,4e-8,5e-8,6e-8,7e-8,8e-8,9e-8,2e-7,3e-7,4e-7,5e-7,6e-7,7e-7,8e-7,9e-7,2e-6,3e-6,4e-6,5e-6,6e-6,7e-6,8e-6,9e-6,2e-5,3e-5,4e-5,5e-5,6e-5,7e-5,8e-5,9e-5], "grid": true, "gridDash": [2, 8], "gridColor": "#a9a9a9", "gridWidth": 1.4, "ticks": true, "tickSize": -7, "tickWidth": 1.5, "tickColor": "#262626", "labels": false, "domain": false, "title": null, "zindex": 0}},
        "color": {"datum": "translation only", "type": "nominal",
          "scale": {"domain": ["translation only", "building tilt * 8.1 m", "tilt * g/w²"], "range": ["#00b000", "#0072bd", "#ff0000"]},
          "legend": {"orient": "none", "legendX": 1018, "legendY": 24, "title": null, "symbolType": "M-2,0H2", "symbolSize": 1225, "symbolStrokeWidth": 3, "symbolOffset": 26, "labelFontSize": 33, "labelFont": "Liberation Sans", "labelColor": "#000000", "labelOffset": 24, "labelLimit": 0, "padding": 6, "rowPadding": 5, "strokeColor": "#262626", "fillColor": "#ffffff", "direction": "vertical"}}
      }
    },
    {
      "data": {"name": "blue"},
      "mark": {"type": "line", "clip": true, "strokeWidth": 2.8},
      "encoding": {
        "x": {"field": "freq", "type": "quantitative", "scale": {"type": "log", "domain": [0.01, 2], "nice": false},
          "axis": {"orient": "bottom", "values": [0.01, 0.1, 1], "grid": true, "gridColor": "#d4d4d4", "gridWidth": 1.5, "ticks": false, "domain": false, "labels": true, "labelExpr": "'10'", "labelFont": "Liberation Sans", "labelFontSize": 38, "labelColor": "#262626", "labelAlign": "center", "labelBaseline": "alphabetic", "labelOffset": -10, "labelPadding": 58, "labelFlush": false, "labelOverlap": false, "labelBound": false,
            "title": "freq (Hz)", "titleFont": "Liberation Sans", "titleFontSize": 42, "titleFontWeight": "normal", "titleColor": "#262626", "titleX": 701, "titleY": 96, "titleAlign": "center", "titleBaseline": "alphabetic", "zindex": 0}},
        "y": {"field": "asd", "type": "quantitative", "scale": {"type": "log", "domain": [1e-9, 1e-4], "nice": false},
          "axis": {"orient": "left", "values": [1e-9, 1e-8, 1e-7, 1e-6, 1e-5, 1e-4], "grid": true, "gridColor": "#d4d4d4", "gridWidth": 1.5, "ticks": false, "domain": false, "labels": true, "labelExpr": "'10'", "labelFont": "Liberation Sans", "labelFontSize": 38, "labelColor": "#262626", "labelAlign": "right", "labelBaseline": "alphabetic", "labelOffset": 15, "labelPadding": 37, "labelFlush": false, "labelOverlap": false, "labelBound": false,
            "title": "motion ASD (m/rtHz)", "titleFont": "Liberation Sans", "titleFontSize": 42, "titleFontWeight": "normal", "titleColor": "#262626", "titleX": -96, "titleY": 570, "titleAngle": 270, "titleAlign": "center", "titleBaseline": "alphabetic", "zindex": 0}},
        "color": {"datum": "building tilt * 8.1 m", "type": "nominal"}
      }
    },
    {
      "data": {"name": "red"},
      "mark": {"type": "line", "clip": true, "strokeWidth": 2.8},
      "encoding": {
        "x": {"field": "freq", "type": "quantitative", "scale": {"type": "log", "domain": [0.01, 2], "nice": false},
          "axis": {"orient": "bottom", "values": [0.01, 0.1, 1], "grid": false, "ticks": true, "tickSize": -14, "tickWidth": 1.5, "tickColor": "#262626", "domain": true, "domainColor": "#262626", "domainWidth": 2, "labels": true, "labelExpr": "'' + round(log(datum.value) / LN10)", "labelFont": "Liberation Sans", "labelFontSize": 25, "labelColor": "#262626", "labelAlign": "left", "labelBaseline": "alphabetic", "labelOffset": 14, "labelPadding": 55, "labelFlush": false, "labelOverlap": false, "labelBound": false, "title": null, "zindex": 1}},
        "y": {"field": "asd", "type": "quantitative", "scale": {"type": "log", "domain": [1e-9, 1e-4], "nice": false},
          "axis": {"orient": "left", "values": [1e-9, 1e-8, 1e-7, 1e-6, 1e-5, 1e-4], "grid": false, "ticks": true, "tickSize": -14, "tickWidth": 1.5, "tickColor": "#262626", "domain": true, "domainColor": "#262626", "domainWidth": 2, "labels": true, "labelExpr": "'' + round(log(datum.value) / LN10)", "labelFont": "Liberation Sans", "labelFontSize": 25, "labelColor": "#262626", "labelAlign": "left", "labelBaseline": "alphabetic", "labelOffset": 2, "labelPadding": 50, "labelFlush": false, "labelOverlap": false, "labelBound": false, "title": null, "zindex": 1}},
        "color": {"datum": "tilt * g/w²", "type": "nominal"}
      }
    },
    {
      "data": {"name": "notes"},
      "mark": {"type": "text", "font": "Lato", "fontSize": 59, "color": "#000000", "align": "left", "baseline": "alphabetic"},
      "encoding": {
        "x": {"field": "freq", "type": "quantitative", "scale": {"type": "log", "domain": [0.01, 2], "nice": false},
          "axis": {"orient": "top", "values": [0.02,0.03,0.04,0.05,0.06,0.07,0.08,0.09,0.2,0.3,0.4,0.5,0.6,0.7,0.8,0.9], "grid": false, "ticks": true, "tickSize": -7, "tickWidth": 1.5, "tickColor": "#262626", "domain": true, "domainColor": "#262626", "domainWidth": 2, "labels": false, "title": null, "zindex": 1}},
        "y": {"field": "asd", "type": "quantitative", "scale": {"type": "log", "domain": [1e-9, 1e-4], "nice": false},
          "axis": {"orient": "right", "values": [2e-9,3e-9,4e-9,5e-9,6e-9,7e-9,8e-9,9e-9,2e-8,3e-8,4e-8,5e-8,6e-8,7e-8,8e-8,9e-8,2e-7,3e-7,4e-7,5e-7,6e-7,7e-7,8e-7,9e-7,2e-6,3e-6,4e-6,5e-6,6e-6,7e-6,8e-6,9e-6,2e-5,3e-5,4e-5,5e-5,6e-5,7e-5,8e-5,9e-5], "grid": false, "ticks": true, "tickSize": -7, "tickWidth": 1.5, "tickColor": "#262626", "domain": true, "domainColor": "#262626", "domainWidth": 2, "labels": false, "title": null, "zindex": 1}},
        "text": {"field": "label", "type": "nominal"}
      }
    },
    {
      "data": {"name": "credit"},
      "mark": {"type": "text", "font": "Liberation Sans", "fontSize": 16.5, "color": "#000000", "align": "left", "baseline": "top", "angle": 270, "dx": 2, "dy": 3},
      "encoding": {
        "x": {"field": "freq", "type": "quantitative", "scale": {"type": "log", "domain": [0.01, 2], "nice": false},
          "axis": {"orient": "top", "values": [0.01, 0.1, 1], "grid": false, "ticks": true, "tickSize": -14, "tickWidth": 1.5, "tickColor": "#262626", "domain": false, "labels": false, "title": null, "zindex": 1}},
        "y": {"field": "asd", "type": "quantitative", "scale": {"type": "log", "domain": [1e-9, 1e-4], "nice": false},
          "axis": {"orient": "right", "values": [1e-9, 1e-8, 1e-7, 1e-6, 1e-5, 1e-4], "grid": false, "ticks": true, "tickSize": -14, "tickWidth": 1.5, "tickColor": "#262626", "domain": false, "labels": false, "title": null, "zindex": 1}},
        "text": {"field": "label", "type": "nominal"}
      }
    },
    {
      "data": {"name": "heading"},
      "mark": {"type": "text", "font": "Liberation Sans", "fontSize": 42, "fontWeight": "bold", "color": "#000000", "align": "center", "baseline": "alphabetic", "dy": -14},
      "encoding": {
        "x": {"field": "freq", "type": "quantitative", "scale": {"type": "log", "domain": [0.01, 2], "nice": false}, "axis": null},
        "y": {"field": "asd", "type": "quantitative", "scale": {"type": "log", "domain": [1e-9, 1e-4], "nice": false}, "axis": null},
        "text": {"field": "label", "type": "nominal"}
      }
    }
  ]
}
